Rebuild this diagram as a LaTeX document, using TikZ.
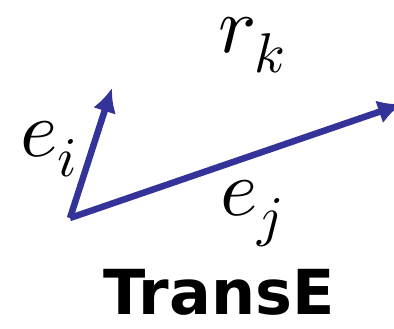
\documentclass[tikz,border=0pt]{standalone}
\usepackage{fontspec}
\usepackage{unicode-math}
\setmathfont{Latin Modern Math}
\setsansfont{DejaVu Sans}
\usetikzlibrary{arrows.meta}
\definecolor{vec}{HTML}{333399}
\tikzset{
  vecarrow/.style={draw=vec, line width=6.5pt, -{Latex[length=24pt,width=24pt]}},
  mathlbl/.style={font=\fontsize{80}{88}\selectfont, inner sep=0pt, anchor=base west},
  titlelbl/.style={font=\sffamily\bfseries\fontsize{62}{68}\selectfont, inner sep=0pt, anchor=base}
}
\begin{document}
\begin{tikzpicture}[x=1pt,y=1pt]
\path[use as bounding box, clip] (0,0) rectangle (394,329);
\coordinate (o) at (70,111);
\coordinate (ti) at (112,241);
\coordinate (tj) at (402,225);
\draw[vecarrow] (o) -- (ti);
\draw[vecarrow] (o) -- (tj);
\node[mathlbl] (rk) at (218,276) {$r_k$};
\node[mathlbl] (ei) at (20,172) {$e_i$};
\node[mathlbl] (ej) at (220,113) {$e_j$};
\node[titlelbl] (t) at (219,14) {TransE};
\end{tikzpicture}
\end{document}
